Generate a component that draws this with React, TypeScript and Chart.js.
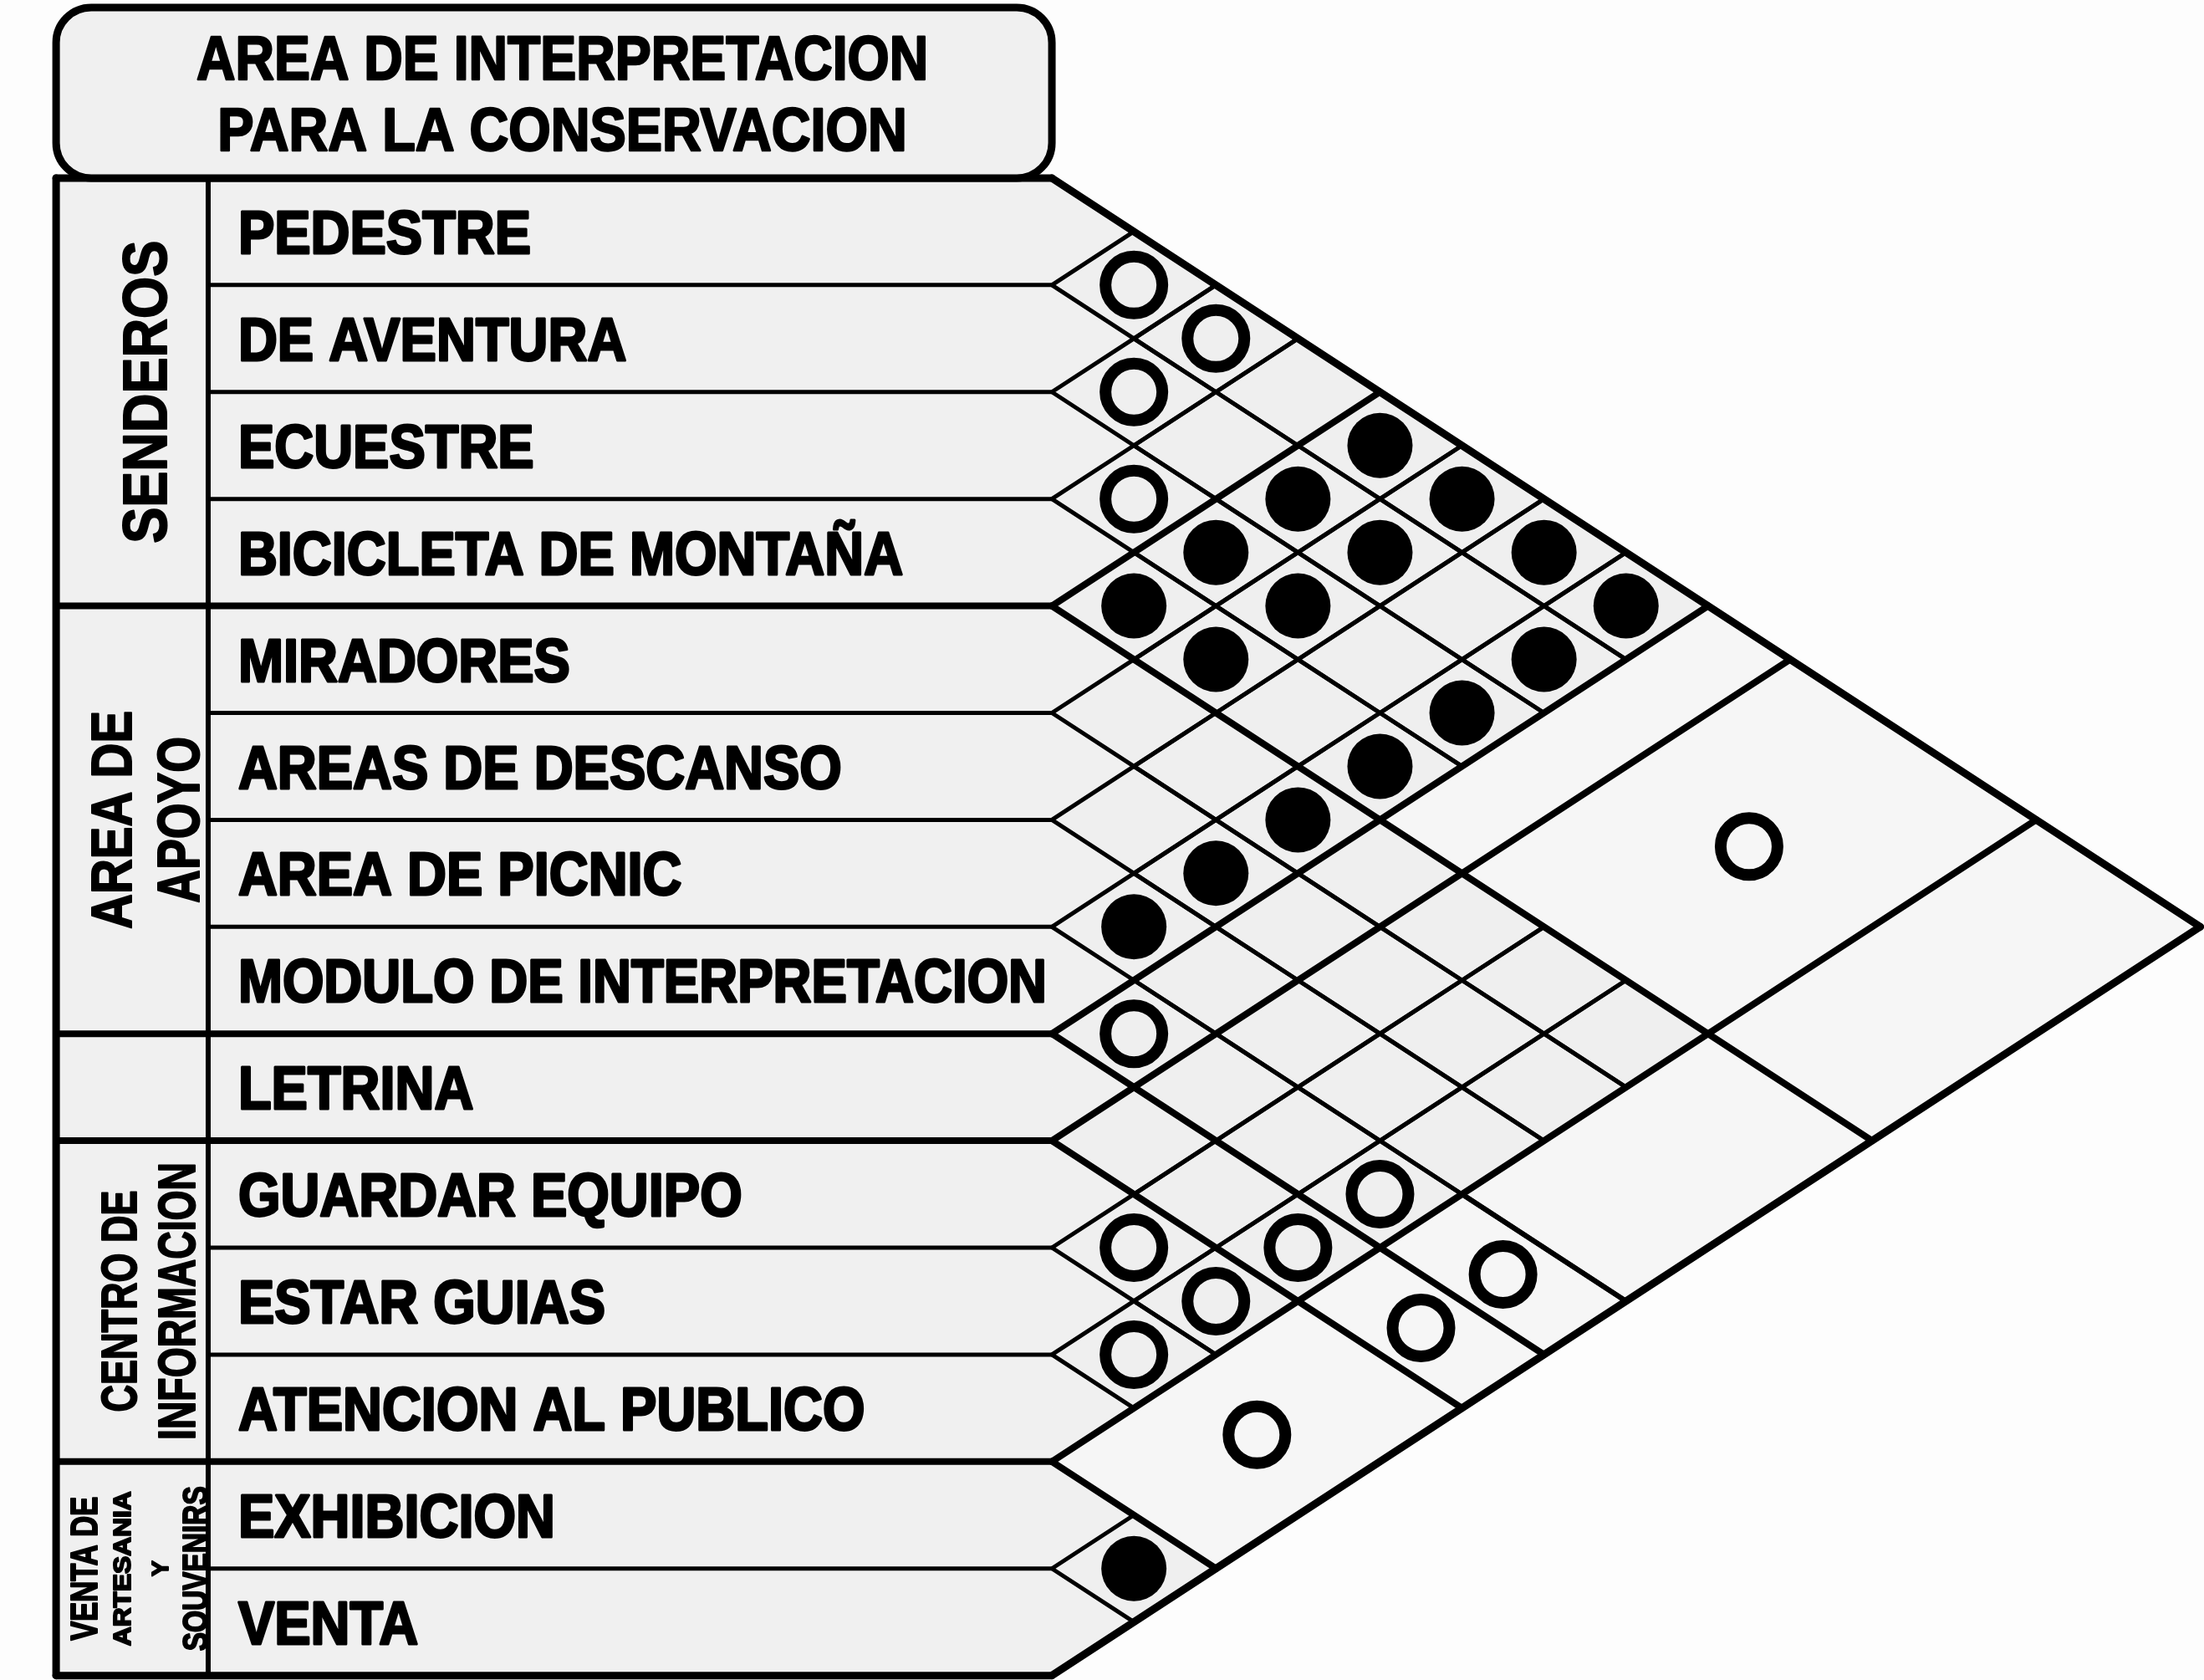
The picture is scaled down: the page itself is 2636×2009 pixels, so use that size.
import React, { useEffect, useRef } from "react";
import { Chart, registerables } from "chart.js";

Chart.register(...registerables);

const CANVAS_W = 2636;
const CANVAS_H = 2009;

// ---------------- data ----------------
const headerLines = ["AREA DE INTERPRETACION", "PARA LA CONSERVACION"];

const groupNames: string[][] = [
  ["SENDEROS"],
  ["AREA DE", "APOYO"],
  [],
  ["CENTRO DE", "INFORMACION"],
  ["VENTA DE", "ARTESANIA", "Y", "SOUVENIRS"],
];
const groupSizes = [4, 4, 1, 3, 2];

const rowLabels = [
  "PEDESTRE",
  "DE AVENTURA",
  "ECUESTRE",
  "BICICLETA DE MONTAÑA",
  "MIRADORES",
  "AREAS DE DESCANSO",
  "AREA DE PICNIC",
  "MODULO DE INTERPRETACION",
  "LETRINA",
  "GUARDAR EQUIPO",
  "ESTAR GUIAS",
  "ATENCION AL PUBLICO",
  "EXHIBICION",
  "VENTA",
];

// pairs of rows (1-based) marked with an open circle
const openPairs: number[][] = [
  [1, 2], [1, 3], [2, 3], [3, 4],
  [8, 9], [8, 12], [9, 12],
  [10, 11], [10, 12], [11, 12],
];

// pairs of rows (1-based) marked with a filled circle
const filledPairs: number[][] = [
  [1, 5], [1, 6], [1, 7], [1, 8],
  [2, 5], [2, 6], [2, 8],
  [3, 5], [3, 6], [3, 8],
  [4, 5], [4, 6], [4, 8],
  [5, 8], [6, 8], [7, 8],
  [13, 14],
];

// merged (coarse) cells: rows iFrom..iTo against rows jFrom..jTo
const mergedBlocks: number[][] = [
  [1, 4, 9, 9],
  [1, 4, 10, 12],
  [1, 4, 13, 14],
  [5, 7, 13, 14],
  [8, 8, 13, 14],
  [9, 9, 13, 14],
  [10, 12, 13, 14],
];
const mergedMarks = ["", "open", "", "", "open", "open", "open"];

// ---------------- layout (data units of the hidden axes) ----------------
const X_MIN = -6.412;
const X_MAX = 7.023;
const Y_MIN = -1.665;
const Y_MAX = 14.042;
const TABLE_LEFT = -6.07;
const GROUP_COL_RIGHT = -5.143;
const LABEL_X = -4.96;
const HEADER_TOP = -1.595;

// styles
const INK = "#000000";
const FILL_FINE = "#efefef";
const FILL_TABLE = "#f0f0f0";
const FILL_MERGED = "#f6f6f6";
const FONT_FAMILY = '"Liberation Sans", Arial, Helvetica, sans-serif';

const groupTextStyle = [
  [{ f: 0.58, font: 75, len: 362 }],
  [{ f: 0.36, font: 68, len: 261 }, { f: 0.8, font: 70, len: 199 }],
  [],
  [{ f: 0.41, font: 60, len: 265 }, { f: 0.79, font: 63, len: 332 }],
  [
    { f: 0.18, font: 44, len: 172 },
    { f: 0.43, font: 30, len: 185 },
    { f: 0.68, font: 28, len: 0 },
    { f: 0.91, font: 42, len: 197 },
  ],
];

// ---------------- helpers ----------------
const pairPoint = (i: number, j: number) => ({ x: (j - i) / 2, y: (i + j) / 2 - 0.5 });
const vtx = (a: number, b: number) => [(b - a) / 2, (a + b) / 2];
const blockPoly = (p: number, q: number, r: number, t: number) => {
  const a0 = p - 1, a1 = q, b0 = r - 1, b1 = t;
  return [vtx(a0, b0), vtx(a0, b1), vtx(a1, b1), vtx(a1, b0)];
};
const blockCenter = (b: number[]) => {
  const ci = (b[0] - 1 + b[1]) / 2;
  const cj = (b[2] - 1 + b[3]) / 2;
  return { x: (cj - ci) / 2, y: (ci + cj) / 2 };
};
const inMerged = (i: number, j: number) =>
  mergedBlocks.some((b) => i >= b[0] && i <= b[1] && j >= b[2] && j <= b[3]);

function drawLabel(
  ctx: CanvasRenderingContext2D,
  text: string,
  x: number,
  y: number,
  fontPx: number,
  opts: { align?: CanvasTextAlign; sx?: number; maxW?: number; targetW?: number; rotate?: boolean; stroke?: number }
) {
  ctx.save();
  ctx.translate(x, y);
  if (opts.rotate) ctx.rotate(-Math.PI / 2);
  ctx.font = `bold ${fontPx}px ${FONT_FAMILY}`;
  const w = ctx.measureText(text).width;
  let sx = opts.targetW ? opts.targetW / w : opts.sx ?? 1;
  if (opts.maxW && w * sx > opts.maxW) sx = opts.maxW / w;
  ctx.scale(sx, 1);
  ctx.textAlign = opts.align ?? "center";
  ctx.textBaseline = "alphabetic";
  const base = fontPx * 0.358;
  ctx.fillStyle = INK;
  ctx.fillText(text, 0, base);
  if (opts.stroke) {
    ctx.lineWidth = opts.stroke;
    ctx.lineJoin = "round";
    ctx.strokeStyle = INK;
    ctx.strokeText(text, 0, base);
  }
  ctx.restore();
}

const matrixPlugin = {
  id: "matrixPlugin",
  beforeDatasetsDraw(chart: any) {
    const ctx: CanvasRenderingContext2D = chart.ctx;
    const xs = chart.scales.x;
    const ys = chart.scales.y;
    const X = (v: number) => xs.getPixelForValue(v);
    const Y = (v: number) => ys.getPixelForValue(v);
    const n = rowLabels.length;

    const bounds = [0];
    groupSizes.forEach((s) => bounds.push(bounds[bounds.length - 1] + s));

    const polyPath = (pts: number[][]) => {
      ctx.beginPath();
      pts.forEach((p, k) => (k === 0 ? ctx.moveTo(X(p[0]), Y(p[1])) : ctx.lineTo(X(p[0]), Y(p[1]))));
      ctx.closePath();
    };
    const line = (x1: number, y1: number, x2: number, y2: number, w: number) => {
      ctx.beginPath();
      ctx.moveTo(X(x1), Y(y1));
      ctx.lineTo(X(x2), Y(y2));
      ctx.lineWidth = w;
      ctx.strokeStyle = INK;
      ctx.lineCap = "round";
      ctx.stroke();
    };

    ctx.save();
    // background
    ctx.fillStyle = "#fdfdfd";
    ctx.fillRect(0, 0, chart.width, chart.height);

    // table fill + row tips
    ctx.fillStyle = FILL_TABLE;
    ctx.fillRect(X(TABLE_LEFT), Y(0), X(0) - X(TABLE_LEFT), Y(n) - Y(0));
    for (let i = 1; i <= n; i++) {
      polyPath([[0, i - 1], [0.5, i - 0.5], [0, i]]);
      ctx.fill();
    }

    // fine cells
    const fine: number[][] = [];
    for (let i = 1; i <= n; i++) {
      for (let j = i + 1; j <= n; j++) {
        if (!inMerged(i, j)) fine.push([i, j]);
      }
    }
    ctx.fillStyle = FILL_FINE;
    fine.forEach(([i, j]) => {
      polyPath(blockPoly(i, i, j, j));
      ctx.fill();
    });
    ctx.fillStyle = FILL_MERGED;
    mergedBlocks.forEach((b) => {
      polyPath(blockPoly(b[0], b[1], b[2], b[3]));
      ctx.fill();
    });

    // strokes of cells
    ctx.lineJoin = "round";
    ctx.strokeStyle = INK;
    ctx.lineWidth = 5;
    fine.forEach(([i, j]) => {
      polyPath(blockPoly(i, i, j, j));
      ctx.stroke();
    });
    ctx.lineWidth = 6;
    mergedBlocks.forEach((b) => {
      polyPath(blockPoly(b[0], b[1], b[2], b[3]));
      ctx.stroke();
    });

    // group boundary lines across the matrix
    bounds.forEach((k) => {
      const w = k === 0 || k === n ? 9 : 8;
      if (k < n) line(0, k, (n - k) / 2, (n + k) / 2, w);
      if (k > 0) line(0, k, k / 2, k / 2, w);
    });

    // table lines
    for (let k = 1; k < n; k++) {
      const isGroup = bounds.includes(k);
      line(isGroup ? TABLE_LEFT : GROUP_COL_RIGHT, k, 0, k, isGroup ? 8 : 5);
    }
    line(TABLE_LEFT, n, 0, n, 9);
    line(TABLE_LEFT, 0, 0, 0, 9);
    line(TABLE_LEFT, 0, TABLE_LEFT, n, 9);
    line(GROUP_COL_RIGHT, 0, GROUP_COL_RIGHT, n, 6);

    // header box
    const hx0 = X(TABLE_LEFT), hx1 = X(0), hy0 = Y(HEADER_TOP), hy1 = Y(0);
    const r = 42;
    ctx.beginPath();
    ctx.moveTo(hx0 + r, hy0);
    ctx.lineTo(hx1 - r, hy0);
    ctx.arcTo(hx1, hy0, hx1, hy0 + r, r);
    ctx.lineTo(hx1, hy1 - r);
    ctx.arcTo(hx1, hy1, hx1 - r, hy1, r);
    ctx.lineTo(hx0 + r, hy1);
    ctx.arcTo(hx0, hy1, hx0, hy1 - r, r);
    ctx.lineTo(hx0, hy0 + r);
    ctx.arcTo(hx0, hy0, hx0 + r, hy0, r);
    ctx.closePath();
    ctx.fillStyle = FILL_TABLE;
    ctx.fill();
    ctx.lineWidth = 9;
    ctx.stroke();

    // header text
    const hcx = (hx0 + hx1) / 2 + 10;
    const hh = hy1 - hy0;
    drawLabel(ctx, headerLines[0], hcx, hy0 + hh * 0.29, 74, { sx: 0.87, stroke: 2.5 });
    drawLabel(ctx, headerLines[1], hcx, hy0 + hh * 0.71, 72, { sx: 0.9, stroke: 2.5 });

    // row labels
    const maxW = X(0) - X(LABEL_X) - 6;
    rowLabels.forEach((lab, idx) => {
      drawLabel(ctx, lab, X(LABEL_X), Y(idx + 0.5), 73, { align: "left", sx: 0.89, maxW, stroke: 3 });
    });

    // group labels (rotated)
    const gx0 = X(TABLE_LEFT), gx1 = X(GROUP_COL_RIGHT);
    groupNames.forEach((lines, g) => {
      const cy = Y((bounds[g] + bounds[g + 1]) / 2);
      lines.forEach((txt, k) => {
        const st = groupTextStyle[g][k];
        drawLabel(ctx, txt, gx0 + st.f * (gx1 - gx0), cy, st.font, {
          rotate: true,
          targetW: st.len || undefined,
          stroke: 2,
        });
      });
    });

    ctx.restore();
  },
};

export default function App() {
  const ref = useRef<HTMLCanvasElement | null>(null);

  useEffect(() => {
    const canvas = ref.current;
    if (!canvas) return;
    const openPts = [
      ...openPairs.map(([i, j]) => pairPoint(i, j)),
      ...mergedBlocks.filter((_, k) => mergedMarks[k] === "open").map(blockCenter),
    ];
    const filledPts = [
      ...filledPairs.map(([i, j]) => pairPoint(i, j)),
      ...mergedBlocks.filter((_, k) => mergedMarks[k] === "filled").map(blockCenter),
    ];
    const chart = new Chart(canvas, {
      type: "scatter",
      data: {
        datasets: [
          {
            label: "Relación compatible",
            data: openPts,
            pointStyle: "circle",
            pointRadius: 34,
            pointBorderWidth: 14,
            pointBorderColor: INK,
            pointBackgroundColor: "rgba(0,0,0,0)",
            clip: false,
          } as any,
          {
            label: "Relación necesaria",
            data: filledPts,
            pointStyle: "circle",
            pointRadius: 39,
            pointBorderWidth: 0,
            pointBorderColor: INK,
            pointBackgroundColor: INK,
            clip: false,
          } as any,
        ],
      },
      options: {
        responsive: false,
        animation: false,
        devicePixelRatio: 1,
        events: [],
        layout: { padding: 0, autoPadding: false } as any,
        plugins: {
          legend: { display: false },
          tooltip: { enabled: false },
          title: { display: false },
        },
        scales: {
          x: { type: "linear", min: X_MIN, max: X_MAX, display: false },
          y: { type: "linear", min: Y_MIN, max: Y_MAX, reverse: true, display: false },
        },
      },
      plugins: [matrixPlugin],
    });
    return () => chart.destroy();
  }, []);

  return (
    <div
      style={{
        position: "absolute",
        left: 0,
        top: 0,
        width: CANVAS_W,
        height: CANVAS_H,
        background: "#ffffff",
        overflow: "hidden",
      }}
    >
      <canvas ref={ref} width={CANVAS_W} height={CANVAS_H} style={{ display: "block" }} />
    </div>
  );
}
